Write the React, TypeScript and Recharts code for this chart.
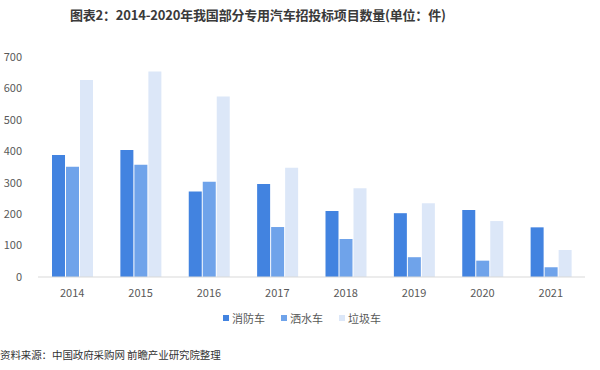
import React from "react";
import { BarChart, Bar, XAxis, YAxis } from "recharts";

const years = ["2014", "2015", "2016", "2017", "2018", "2019", "2020", "2021"];
const fireTruck = [388, 404, 272, 296, 210, 203, 213, 158];
const sprinkler = [351, 357, 303, 159, 121, 63, 52, 31];
const garbage = [627, 654, 574, 348, 282, 235, 178, 86];
const yTicks = [0, 100, 200, 300, 400, 500, 600, 700];

const seriesNames = ["消防车", "洒水车", "垃圾车"];
const colors = ["#4283E0", "#6FA3EA", "#DCE7F8"];

const data = years.map((y, i) => ({
  year: y,
  fire: fireTruck[i],
  sprinkler: sprinkler[i],
  garbage: garbage[i],
}));

const font = "'Noto Sans CJK SC', 'Noto Sans', sans-serif";

export default function App() {
  return (
    <div
      style={{
        position: "absolute",
        left: 0,
        top: 0,
        width: 600,
        height: 370,
        background: "#fff",
        fontFamily: font,
      }}
    >
      <div
        style={{
          position: "absolute",
          left: 70,
          top: 5,
          fontSize: 13,
          letterSpacing: -0.2,
          fontWeight: 700,
          color: "#3a3a3a",
          whiteSpace: "nowrap",
          lineHeight: "20px",
        }}
      >
        图表2：2014-2020年我国部分专用汽车招投标项目数量(单位：件)
      </div>
      <BarChart
        width={600}
        height={370}
        data={data}
        margin={{ top: 57, right: 15, left: 0, bottom: 63 }}
        barSize={13}
        barGap={1}
      >
        <XAxis
          dataKey="year"
          axisLine={{ stroke: "#d9d9d9" }}
          tickLine={false}
          tick={{ fill: "#595959", fontSize: 11, fontFamily: font }}
          height={30}
          tickMargin={6}
        />
        <YAxis
          domain={[0, 700]}
          ticks={yTicks}
          axisLine={false}
          tickLine={false}
          width={38}
          tick={{ fill: "#595959", fontSize: 11, fontFamily: font }}
          tickMargin={10}
        />
        <Bar dataKey="fire" name={seriesNames[0]} fill={colors[0]} isAnimationActive={false} />
        <Bar dataKey="sprinkler" name={seriesNames[1]} fill={colors[1]} isAnimationActive={false} />
        <Bar dataKey="garbage" name={seriesNames[2]} fill={colors[2]} isAnimationActive={false} />
      </BarChart>
      <div
        style={{
          position: "absolute",
          left: 223,
          top: 310,
          display: "flex",
          gap: 16,
          fontSize: 11,
          color: "#595959",
          lineHeight: "16px",
        }}
      >
        {seriesNames.map((n, i) => (
          <div key={n} style={{ display: "flex", alignItems: "center" }}>
            <span
              style={{
                display: "inline-block",
                width: 6,
                height: 6,
                background: colors[i],
                marginRight: 3,
              }}
            />
            {n}
          </div>
        ))}
      </div>
      <div
        style={{
          position: "absolute",
          left: 0,
          top: 347,
          fontSize: 10.5,
          letterSpacing: -0.1,
          color: "#333",
          whiteSpace: "nowrap",
          lineHeight: "16px",
        }}
      >
        资料来源：中国政府采购网 前瞻产业研究院整理
      </div>
    </div>
  );
}
